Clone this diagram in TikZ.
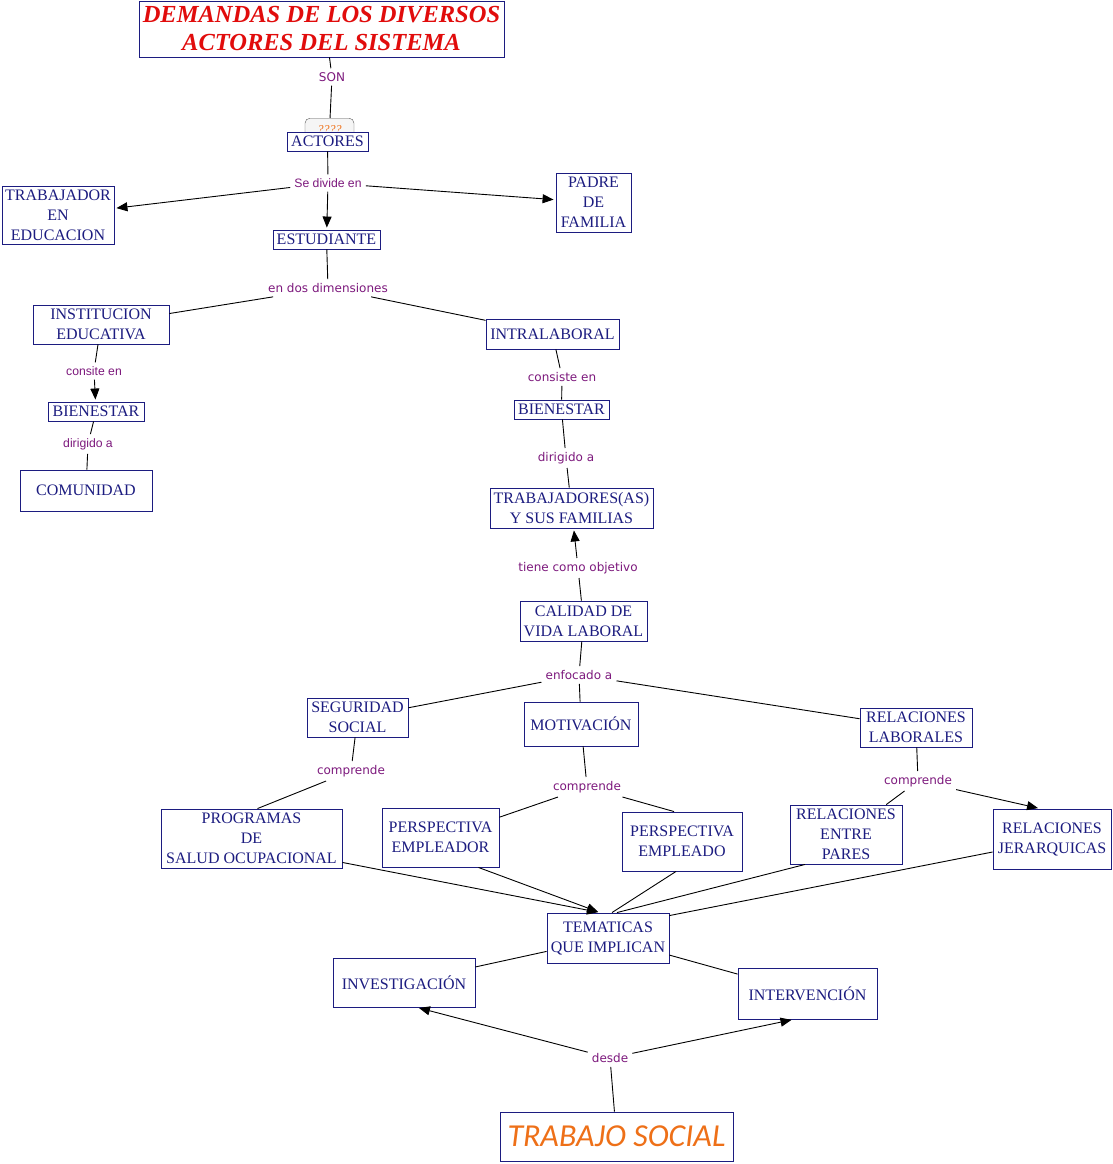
\documentclass[tikz,border=0pt]{standalone}
\usepackage{fontspec}
\setmainfont{Liberation Serif}
\newfontfamily\etiqfont{DejaVu Sans}
\newfontfamily\ariafont{Liberation Sans}
\newfontfamily\tsfont{Carlito}
\usetikzlibrary{positioning, calc, arrows.meta}
\definecolor{azulc}{RGB}{28,28,128}
\definecolor{moradoe}{RGB}{125,25,125}
\definecolor{rojot}{RGB}{225,12,12}
\definecolor{naranjat}{RGB}{238,112,24}

\begin{document}
\begin{tikzpicture}[x=1pt,y=-1pt,concepto/.style={rectangle,draw=azulc,line width=0.9pt,text=azulc,fill=white,align=center,inner sep=2pt,font=\fontsize{16}{20}\selectfont}, enlace/.style={text=moradoe,fill=white,inner sep=4pt,font=\etiqfont\fontsize{12}{14}\selectfont}, enlace2/.style={enlace,font=\ariafont\fontsize{12.2}{14}\selectfont}, flecha/.style={-{Triangle[length=11pt,width=9pt]},shorten >=2pt}, linea/.style={draw=black,line width=0.9pt}]
\useasboundingbox (0,0) rectangle (1113,1164);
% conceptos
\node (titulo) [concepto, minimum width=365pt, minimum height=56pt, font=\bfseries\itshape\fontsize{24.5}{28}\selectfont, text=rojot] at (321.5,29) {DEMANDAS DE LOS DIVERSOS\\ACTORES DEL SISTEMA};
\node (tab) [rectangle, rounded corners=5pt, draw=gray!70!black, fill=gray!8, minimum width=49pt, minimum height=22pt, inner sep=0pt, font=\itshape\fontsize{12}{12}\selectfont, text=naranjat, anchor=north] at (329.5,118) {\raisebox{-5pt}{????}};
\node (actores) [concepto, minimum width=81pt, minimum height=19pt] at (327.5,141.5) {ACTORES};
\node (trabajador) [concepto, minimum width=112pt, minimum height=58pt] at (58,215) {TRABAJADOR\\EN\\EDUCACION};
\node (padre) [concepto, minimum width=75pt, minimum height=59pt] at (593.5,202.5) {PADRE\\DE\\FAMILIA};
\node (estudiante) [concepto, minimum width=107pt, minimum height=19pt] at (326.5,239.5) {ESTUDIANTE};
\node (institucion) [concepto, minimum width=136pt, minimum height=39pt] at (101,324.5) {INSTITUCION\\EDUCATIVA};
\node (intralaboral) [concepto, minimum width=133pt, minimum height=30pt] at (552.5,334) {INTRALABORAL};
\node (bienestar1) [concepto, minimum width=96pt, minimum height=19pt] at (96,411.5) {BIENESTAR};
\node (comunidad) [concepto, minimum width=132pt, minimum height=41pt] at (86,490.5) {COMUNIDAD};
\node (bienestar2) [concepto, minimum width=95pt, minimum height=19pt] at (561.5,409.5) {BIENESTAR};
\node (trabajadores) [concepto, minimum width=163pt, minimum height=40pt] at (571.5,508) {TRABAJADORES(AS)\\Y SUS FAMILIAS};
\node (calidad) [concepto, minimum width=127pt, minimum height=40pt] at (583.5,621) {CALIDAD DE\\VIDA LABORAL};
\node (seguridad) [concepto, minimum width=101pt, minimum height=39pt] at (357.5,717.5) {SEGURIDAD\\SOCIAL};
\node (motivacion) [concepto, minimum width=114pt, minimum height=44pt] at (581,724) {MOTIVACIÓN};
\node (rellab) [concepto, minimum width=112pt, minimum height=39pt] at (916,727.5) {RELACIONES\\LABORALES};
\node (programas) [concepto, minimum width=181pt, minimum height=59pt] at (251.5,838.5) {PROGRAMAS\\DE\\SALUD OCUPACIONAL};
\node (empleador) [concepto, minimum width=117pt, minimum height=59pt] at (440.5,837.5) {PERSPECTIVA\\EMPLEADOR};
\node (empleado) [concepto, minimum width=120pt, minimum height=59pt] at (682,841.5) {PERSPECTIVA\\EMPLEADO};
\node (pares) [concepto, minimum width=112pt, minimum height=59pt] at (846,834.5) {RELACIONES\\ENTRE\\PARES};
\node (jerarquicas) [concepto, minimum width=118pt, minimum height=60pt] at (1052,839) {RELACIONES\\JERARQUICAS};
\node (tematicas) [concepto, minimum width=122pt, minimum height=50pt] at (608,938) {TEMATICAS\\QUE IMPLICAN};
\node (investigacion) [concepto, minimum width=142pt, minimum height=49pt] at (404,982.5) {INVESTIGACIÓN};
\node (intervencion) [concepto, minimum width=139pt, minimum height=51pt] at (807.5,993.5) {INTERVENCIÓN};
\node (trabajo) [concepto, minimum width=233pt, minimum height=49pt, font=\tsfont\itshape\fontsize{32}{34}\selectfont, text=naranjat] at (616.5,1136.5) {TRABAJO SOCIAL};
% frases de enlace
\node (son) [enlace] at (332,77) {SON};
\node (sedivide) [enlace2] at (328,183) {Se divide en};
\node (endos) [enlace] at (328,288) {en dos dimensiones};
\node (consite) [enlace2] at (94,371) {consite en};
\node (dir1) [enlace2] at (88,444) {dirigido a};
\node (consiste) [enlace] at (562,377) {consiste en};
\node (dir2) [enlace] at (566,458) {dirigido a};
\node (tiene) [enlace] at (578,568) {tiene como objetivo};
\node (enfocado) [enlace] at (579,675) {enfocado a};
\node (comp1) [enlace] at (351,771) {comprende};
\node (comp2) [enlace] at (587,787) {comprende};
\node (comp3) [enlace] at (918,781) {comprende};
\node (desde) [enlace] at (610,1058) {desde};
% conectores
\begin{scope}[every path/.style={linea}]
  \draw ([xshift=8pt]titulo.south) -- (son) -- (tab);
  \draw (actores) -- (sedivide);
  \draw [flecha] (sedivide) -- (trabajador);
  \draw [flecha] (sedivide) -- (estudiante);
  \draw [flecha] (sedivide) -- (padre);
  \draw (estudiante) -- (endos);
  \draw (endos) -- (institucion);
  \draw (endos) -- (intralaboral);
  \draw (institucion) -- (consite);
  \draw [flecha] (consite) -- (bienestar1);
  \draw (bienestar1) -- (dir1) -- (comunidad);
  \draw (intralaboral) -- (consiste) -- (bienestar2);
  \draw (bienestar2) -- (dir2) -- (trabajadores);
  \draw (calidad) -- (tiene);
  \draw [flecha] (tiene) -- (trabajadores);
  \draw (calidad) -- (enfocado);
  \draw (enfocado) -- (seguridad);
  \draw (enfocado) -- (motivacion);
  \draw (enfocado) -- (rellab);
  \draw (seguridad) -- (comp1) -- ([xshift=6pt]programas.north);
  \draw (motivacion) -- (comp2);
  \draw (comp2) -- (empleador);
  \draw (comp2) -- ([xshift=-8pt]empleado.north);
  \draw (rellab) -- (comp3);
  \draw (comp3) -- (pares);
  \draw [flecha] (comp3) -- ([xshift=-12pt]jerarquicas.north);
  \draw [flecha] ([yshift=6pt]programas.south east) -- ([xshift=-8pt]tematicas.north);
  \draw [flecha] ([xshift=-21pt]empleador.south east) -- ([xshift=-8pt]tematicas.north);
  \draw ([xshift=-6pt]empleado.south) -- ([xshift=4pt]tematicas.north);
  \draw ([xshift=-41pt]pares.south) -- ([xshift=9pt]tematicas.north);
  \draw ([yshift=-13pt]jerarquicas.west) -- ([yshift=-3pt]tematicas.north east);
  \draw (tematicas) -- (investigacion);
  \draw (tematicas) -- (intervencion);
  \draw (trabajo) -- (desde);
  \draw [flecha] (desde) -- ([xshift=13pt]investigacion.south);
  \draw [flecha] (desde) -- ([xshift=-14pt]intervencion.south);
\end{scope}
\end{tikzpicture}
\end{document}
